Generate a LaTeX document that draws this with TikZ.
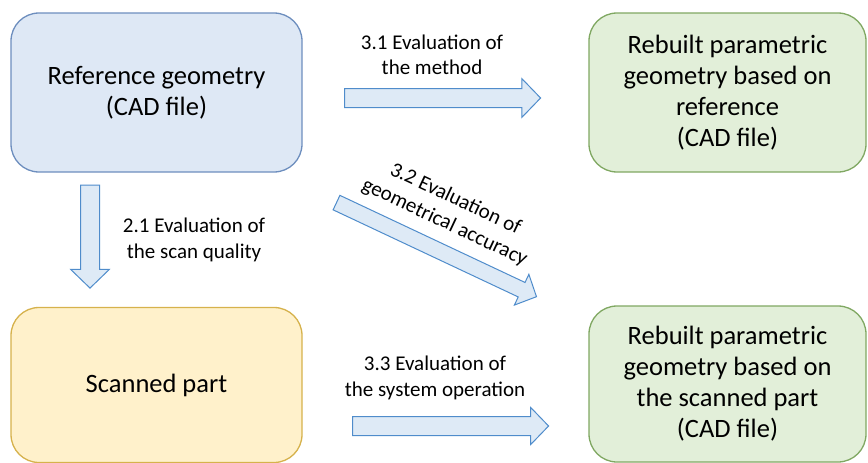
\documentclass[tikz,border=0pt]{standalone}
\usepackage{fontspec}
\setmainfont{Carlito}
\usetikzlibrary{shapes.arrows}

\definecolor{reffill}{HTML}{DEE8F5}
\definecolor{refline}{HTML}{6D8EBE}
\definecolor{scanfill}{HTML}{FFF1CB}
\definecolor{scanline}{HTML}{D6B24C}
\definecolor{cadfill}{HTML}{E2EFD9}
\definecolor{cadline}{HTML}{80A862}
\definecolor{arrowfill}{HTML}{DEEAF6}
\definecolor{arrowline}{HTML}{4F8CCB}

\begin{document}
\begin{tikzpicture}[
		x=1pt, y=-1pt,
		box/.style={rectangle, rounded corners=28pt, line width=1.3pt, align=center,
			inner sep=0pt, font=\fontsize{26.5}{31}\selectfont},
		blockarrow/.style={single arrow, draw=arrowline, fill=arrowfill, line width=1pt,
			single arrow head extend=10pt, single arrow tip angle=92,
			single arrow head indent=0pt, inner xsep=0pt, inner ysep=9pt},
		lbl/.style={align=center, inner sep=0pt, font=\fontsize{21}{25.5}\selectfont}
	]
  \useasboundingbox (0,0) rectangle (868,463);
  \node (ref) [box, draw=refline, fill=reffill, minimum width=291pt, minimum height=159pt] at (156.5,92.5) {Reference geometry\\(CAD file)};
  \node (scan) [box, draw=scanline, fill=scanfill, minimum width=291pt, minimum height=155pt] at (156.5,385) {Scanned part};
  \node (cad_ref) [box, draw=cadline, fill=cadfill, minimum width=277pt, minimum height=159pt] at (727.5,92.5) {Rebuilt parametric\\geometry based on\\reference\\(CAD file)};
  \node (cad_scan) [box, draw=cadline, fill=cadfill, minimum width=277pt, minimum height=156pt] at (727.5,384) {Rebuilt parametric\\geometry based on\\the scanned part\\(CAD file)};
  % block arrows
  \node (a21) [blockarrow, minimum height=103pt, rotate=-90] at (90,232) {};
  \node (a31) [blockarrow, minimum height=196pt] at (438,98) {};
  \node (a32) [blockarrow, minimum height=221pt, inner ysep=7.5pt, single arrow head extend=9pt, rotate=-25.2] at (433,248) {};
  \node (a33) [blockarrow, minimum height=196pt, single arrow head extend=9pt] at (446,426) {};
  % labels
  \node (l21) [lbl] at (194,240) {2.1 Evaluation of\\the scan quality};
  \node (l31) [lbl] at (432,55) {3.1 Evaluation of\\the method};
  \node (l32) [lbl, rotate=-25.2] at (450,211) {3.2 Evaluation of\\geometrical accuracy};
  \node (l33) [lbl] at (435,378) {3.3 Evaluation of\\the system operation};
\end{tikzpicture}
\end{document}
